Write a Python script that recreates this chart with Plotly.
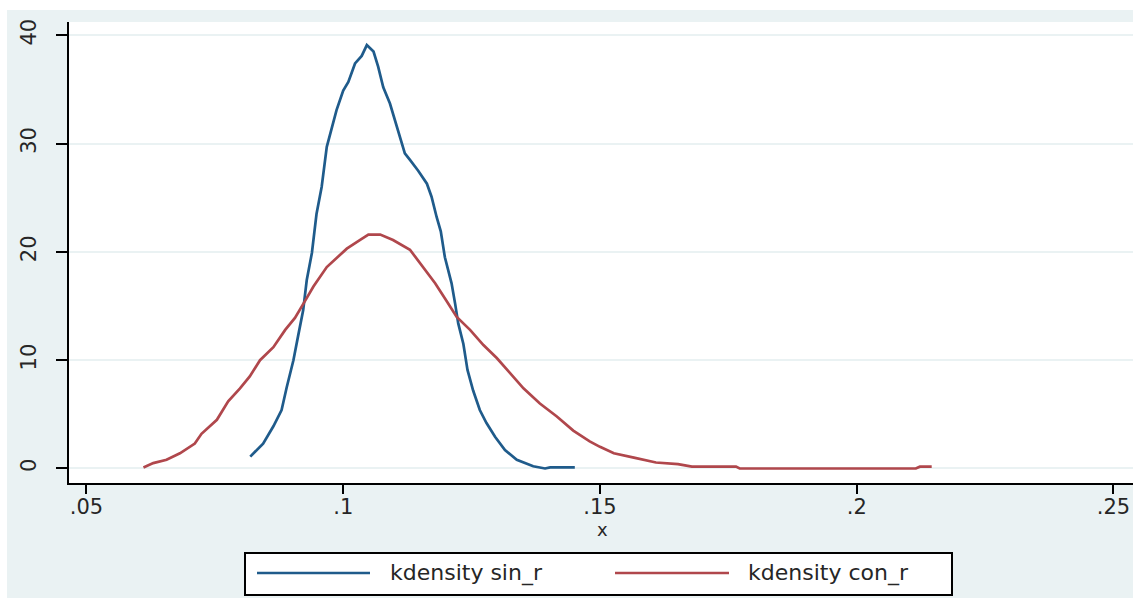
import plotly.graph_objects as go

# ---- data ----
sin_x = [0.0819, 0.0844, 0.0864, 0.0880, 0.0890, 0.0903, 0.0912, 0.0922, 0.0929, 0.0939,
         0.0948, 0.0958, 0.0968, 0.0977, 0.0987, 0.1000, 0.1010, 0.1023, 0.1036, 0.1046,
         0.1059, 0.1068, 0.1078, 0.1091, 0.1101, 0.1111, 0.1120, 0.1130, 0.1146, 0.1163,
         0.1172, 0.1182, 0.1190, 0.1198, 0.1211, 0.1218, 0.1224, 0.1234, 0.1242, 0.1253,
         0.1266, 0.1279, 0.1296, 0.1315, 0.1338, 0.1370, 0.1393, 0.1403, 0.1451]
sin_y = [1.1, 2.3, 3.9, 5.4, 7.5, 10.0, 12.2, 14.6, 17.4, 19.9,
         23.5, 26.0, 29.7, 31.2, 33.1, 34.9, 35.7, 37.4, 38.1, 39.1,
         38.5, 37.1, 35.2, 33.7, 32.1, 30.6, 29.1, 28.5, 27.5, 26.3,
         25.1, 23.2, 21.9, 19.5, 17.1, 15.2, 13.4, 11.5, 9.1, 7.2,
         5.4, 4.2, 2.9, 1.7, 0.8, 0.2, 0.0, 0.1, 0.1]

con_x = [0.0611, 0.0630, 0.0656, 0.0682, 0.0711, 0.0724, 0.0754, 0.0776, 0.0799, 0.0818,
         0.0838, 0.0864, 0.0887, 0.0906, 0.0926, 0.0942, 0.0968, 0.0987, 0.1007, 0.1033,
         0.1049, 0.1072, 0.1097, 0.1130, 0.1156, 0.1179, 0.1201, 0.1221, 0.1247, 0.1273,
         0.1299, 0.1325, 0.1351, 0.1383, 0.1416, 0.1448, 0.1480, 0.1500, 0.1527, 0.1566,
         0.1609, 0.1652, 0.1679, 0.1765, 0.1772, 0.2115, 0.2123, 0.2146]
con_y = [0.1, 0.5, 0.8, 1.4, 2.3, 3.2, 4.5, 6.2, 7.4, 8.5,
         10.0, 11.2, 12.8, 13.9, 15.5, 16.8, 18.6, 19.4, 20.3, 21.1,
         21.6, 21.6, 21.1, 20.2, 18.6, 17.1, 15.5, 14.0, 12.8, 11.4,
         10.2, 8.8, 7.4, 6.0, 4.8, 3.5, 2.5, 2.0, 1.4, 1.0,
         0.55, 0.4, 0.17, 0.17, 0.0, 0.0, 0.17, 0.17]

x_tickvals = [0.05, 0.10, 0.15, 0.20, 0.25]
x_ticktext = [".05", ".1", ".15", ".2", ".25"]
y_tickvals = [0, 10, 20, 30, 40]
y_ticktext = ["0", "10", "20", "30", "40"]
x_title = "x"
series_names = ["kdensity sin_r", "kdensity con_r"]

BLUE = "#1f5b8b"
RED = "#b0474c"
BG = "#eaf2f3"
TXT = "#262626"
FONT = "DejaVu Sans"

fig = go.Figure()
fig.add_trace(go.Scatter(x=sin_x, y=sin_y, mode="lines", name=series_names[0],
                         line=dict(color=BLUE, width=2.7)))
fig.add_trace(go.Scatter(x=con_x, y=con_y, mode="lines", name=series_names[1],
                         line=dict(color=RED, width=2.7)))

W, H = 1133, 598
L, R, T, B = 69, 0, 22, 115
pw, ph = W - L - R, H - T - B


def px(x):
    return (x - L) / pw


def py(y):
    return (H - B - y) / ph


shapes = [
    # white strips outside the light-blue graph region
    dict(type="rect", xref="paper", yref="paper", x0=px(0), x1=px(W), y0=py(10), y1=py(0),
         fillcolor="white", line=dict(width=0), layer="below"),
    dict(type="rect", xref="paper", yref="paper", x0=px(0), x1=px(7), y0=py(H), y1=py(0),
         fillcolor="white", line=dict(width=0), layer="below"),
    # legend box
    dict(type="rect", xref="paper", yref="paper", x0=px(245), x1=px(952), y0=py(595), y1=py(553),
         fillcolor="white", line=dict(color="black", width=2)),
    dict(type="line", xref="paper", yref="paper", x0=px(257), x1=px(370), y0=py(573), y1=py(573),
         line=dict(color=BLUE, width=2.7)),
    dict(type="line", xref="paper", yref="paper", x0=px(615), x1=px(729), y0=py(573), y1=py(573),
         line=dict(color=RED, width=2.7)),
]

annotations = [
    dict(xref="paper", yref="paper", x=px(388), y=py(573), text=series_names[0], showarrow=False,
         xanchor="left", yanchor="middle", font=dict(family=FONT, size=22, color=TXT)),
    dict(xref="paper", yref="paper", x=px(746), y=py(573), text=series_names[1], showarrow=False,
         xanchor="left", yanchor="middle", font=dict(family=FONT, size=22, color=TXT)),
    dict(xref="paper", yref="paper", x=px(602), y=py(529), text=x_title, showarrow=False,
         xanchor="center", yanchor="middle", font=dict(family=FONT, size=18, color=TXT)),
]

fig.update_layout(
    width=W, height=H,
    margin=dict(l=L, r=R, t=T, b=B, pad=0),
    paper_bgcolor=BG, plot_bgcolor="white",
    showlegend=False,
    font=dict(family=FONT, color=TXT),
    shapes=shapes, annotations=annotations,
)

fig.update_xaxes(
    range=[0.0466, 0.2538], tickvals=x_tickvals, ticktext=x_ticktext,
    showgrid=False, zeroline=False,
    showline=True, linecolor="black", linewidth=2,
    ticks="outside", ticklen=9, tickwidth=2, tickcolor="black",
    ticklabelstandoff=-5,
    tickfont=dict(family=FONT, size=21, color=TXT),
)
fig.update_yaxes(
    range=[-1.34, 41.23], tickvals=y_tickvals, ticktext=y_ticktext,
    showgrid=True, gridcolor=BG, gridwidth=2, zeroline=False,
    showline=True, linecolor="black", linewidth=2,
    ticks="outside", ticklen=11, tickwidth=2, tickcolor="black",
    tickangle=-90, ticklabelstandoff=12,
    tickfont=dict(family=FONT, size=21, color=TXT),
)

fig.write_html(
    "out.html",
    config={"displayModeBar": False},
    post_script="document.body.style.margin='0';document.body.style.overflow='hidden';",
)
